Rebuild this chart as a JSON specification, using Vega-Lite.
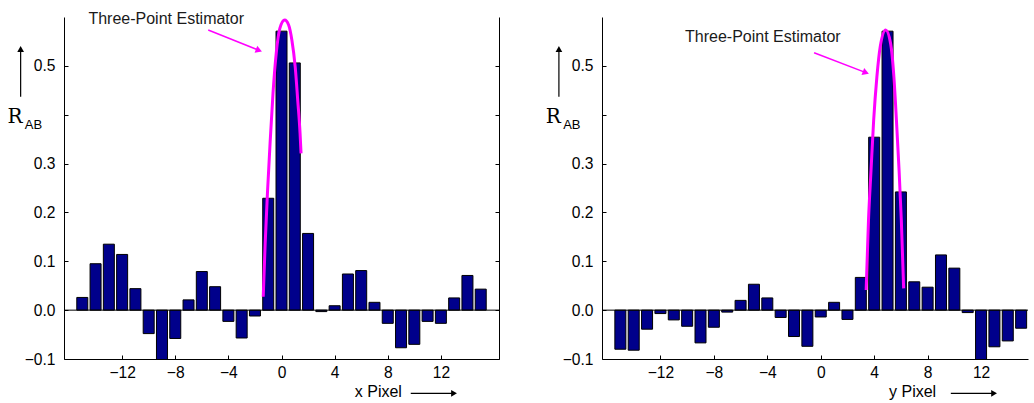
{
  "$schema": "https://vega.github.io/schema/vega-lite/v6.json",
  "padding": {"left": 7, "top": 11, "right": 0, "bottom": 0},
  "bounds": "flush",
  "spacing": 103,
  "datasets": {
    "leftBars": [
      {"pixel": -15, "r": 0.026}, {"pixel": -14, "r": 0.095}, {"pixel": -13, "r": 0.135}, {"pixel": -12, "r": 0.114},
      {"pixel": -11, "r": 0.044}, {"pixel": -10, "r": -0.048}, {"pixel": -9, "r": -0.102}, {"pixel": -8, "r": -0.058},
      {"pixel": -7, "r": 0.021}, {"pixel": -6, "r": 0.079}, {"pixel": -5, "r": 0.048}, {"pixel": -4, "r": -0.023},
      {"pixel": -3, "r": -0.057}, {"pixel": -2, "r": -0.012}, {"pixel": -1, "r": 0.229}, {"pixel": 0, "r": 0.571},
      {"pixel": 1, "r": 0.506}, {"pixel": 2, "r": 0.157}, {"pixel": 3, "r": -0.003}, {"pixel": 4, "r": 0.009},
      {"pixel": 5, "r": 0.074}, {"pixel": 6, "r": 0.081}, {"pixel": 7, "r": 0.016}, {"pixel": 8, "r": -0.027},
      {"pixel": 9, "r": -0.077}, {"pixel": 10, "r": -0.070}, {"pixel": 11, "r": -0.023}, {"pixel": 12, "r": -0.027},
      {"pixel": 13, "r": 0.025}, {"pixel": 14, "r": 0.071}, {"pixel": 15, "r": 0.043}
    ],
    "rightBars": [
      {"pixel": -15, "r": -0.080}, {"pixel": -14, "r": -0.082}, {"pixel": -13, "r": -0.039}, {"pixel": -12, "r": -0.007},
      {"pixel": -11, "r": -0.020}, {"pixel": -10, "r": -0.033}, {"pixel": -9, "r": -0.067}, {"pixel": -8, "r": -0.035},
      {"pixel": -7, "r": -0.004}, {"pixel": -6, "r": 0.020}, {"pixel": -5, "r": 0.053}, {"pixel": -4, "r": 0.025},
      {"pixel": -3, "r": -0.015}, {"pixel": -2, "r": -0.054}, {"pixel": -1, "r": -0.074}, {"pixel": 0, "r": -0.014},
      {"pixel": 1, "r": 0.016}, {"pixel": 2, "r": -0.019}, {"pixel": 3, "r": 0.067}, {"pixel": 4, "r": 0.354},
      {"pixel": 5, "r": 0.571}, {"pixel": 6, "r": 0.242}, {"pixel": 7, "r": 0.058}, {"pixel": 8, "r": 0.047},
      {"pixel": 9, "r": 0.113}, {"pixel": 10, "r": 0.086}, {"pixel": 11, "r": -0.005}, {"pixel": 12, "r": -0.102},
      {"pixel": 13, "r": -0.075}, {"pixel": 14, "r": -0.063}, {"pixel": 15, "r": -0.037}
    ],
    "leftCurve": [
      {"pixel": -1.376, "r": 0.0274}, {"pixel": -1.229, "r": 0.1367}, {"pixel": -1.059, "r": 0.2390},
      {"pixel": -0.861, "r": 0.3414}, {"pixel": -0.640, "r": 0.4437}, {"pixel": -0.397, "r": 0.5256},
      {"pixel": -0.125, "r": 0.5767}, {"pixel": 0.243, "r": 0.5937}, {"pixel": 0.537, "r": 0.5835},
      {"pixel": 0.780, "r": 0.5528}, {"pixel": 1.030, "r": 0.4982}, {"pixel": 1.221, "r": 0.4299},
      {"pixel": 1.398, "r": 0.3619}, {"pixel": 1.471, "r": 0.3209}
    ],
    "rightCurve": [
      {"pixel": 3.399, "r": 0.0411}, {"pixel": 3.575, "r": 0.1844}, {"pixel": 3.765, "r": 0.2867},
      {"pixel": 3.962, "r": 0.3891}, {"pixel": 4.203, "r": 0.4777}, {"pixel": 4.452, "r": 0.5391},
      {"pixel": 4.861, "r": 0.5733}, {"pixel": 5.227, "r": 0.5460}, {"pixel": 5.475, "r": 0.4777},
      {"pixel": 5.665, "r": 0.3891}, {"pixel": 5.863, "r": 0.2867}, {"pixel": 6.031, "r": 0.1844},
      {"pixel": 6.206, "r": 0.0446}
    ]
  },
  "hconcat": [
    {
      "width": 435,
      "height": 342,
      "resolve": {"axis": {"y": "independent"}},
      "layer": [
        {
          "layer": [
            {
              "data": {"name": "leftBars"},
              "mark": {"type": "bar", "width": 11, "fill": "#00008B", "stroke": "black", "strokeWidth": 1, "clip": true},
              "encoding": {
                "x": {"field": "pixel", "type": "quantitative",
                      "scale": {"domain": [-16, 16], "nice": false, "zero": false},
                      "axis": {"title": null, "values": [-12, -8, -4, 0, 4, 8, 12], "labelPadding": 10}},
                "y": {"field": "r", "type": "quantitative",
                      "scale": {"domain": [-0.1, 0.6], "nice": false},
                      "axis": {"title": null, "values": [-0.1, 0, 0.1, 0.2, 0.3, 0.4, 0.5], "labelPadding": 13,
                               "labelExpr": "abs(datum.value - 0.4) < 0.01 ? '' : format(datum.value, '.1f')"}}
              }
            },
            {
              "data": {"name": "leftCurve"},
              "mark": {"type": "line", "color": "#FF00FF", "strokeWidth": 3, "interpolate": "monotone"},
              "encoding": {
                "x": {"field": "pixel", "type": "quantitative"},
                "y": {"field": "r", "type": "quantitative"}
              }
            },
            {
              "data": {"values": [{}]},
              "mark": {"type": "text", "font": "Liberation Sans", "fontSize": 16, "color": "#1a1a1a", "align": "center", "baseline": "middle"},
              "encoding": {
                "x": {"datum": -8.68}, "y": {"datum": 0.5957},
                "text": {"value": "Three-Point Estimator"}
              }
            },
            {
              "data": {"values": [{}]},
              "mark": {"type": "rule", "color": "#FF00FF", "strokeWidth": 1.5},
              "encoding": {
                "x": {"datum": -5.517}, "y": {"datum": 0.5733},
                "x2": {"datum": -1.699}, "y2": {"datum": 0.5318}
              }
            },
            {
              "data": {"values": [{}]},
              "mark": {"type": "point", "shape": "triangle-right", "filled": true, "color": "#FF00FF", "size": 55, "angle": 21, "opacity": 1},
              "encoding": {
                "x": {"datum": -1.699}, "y": {"datum": 0.5318}
              }
            },
            {
              "data": {"values": [{}]},
              "mark": {"type": "text", "font": "DejaVu Serif", "fontSize": 20, "color": "black", "align": "left", "baseline": "alphabetic"},
              "encoding": {
                "x": {"datum": -20.627}, "y": {"datum": 0.3824},
                "text": {"value": "R"}
              }
            },
            {
              "data": {"values": [{}]},
              "mark": {"type": "text", "font": "Liberation Sans", "fontSize": 13, "color": "black", "align": "left", "baseline": "alphabetic"},
              "encoding": {
                "x": {"datum": -19.325}, "y": {"datum": 0.3698},
                "text": {"value": "AB"}
              }
            },
            {
              "data": {"values": [{}]},
              "mark": {"type": "rule", "color": "black", "strokeWidth": 1.2},
              "encoding": {
                "x": {"datum": -19.641}, "y": {"datum": 0.4369},
                "y2": {"datum": 0.5345}
              }
            },
            {
              "data": {"values": [{}]},
              "mark": {"type": "point", "shape": "triangle-up", "filled": true, "color": "black", "size": 45, "opacity": 1},
              "encoding": {
                "x": {"datum": -19.641}, "y": {"datum": 0.5345}
              }
            },
            {
              "data": {"values": [{}]},
              "mark": {"type": "text", "font": "Liberation Sans", "fontSize": 16, "color": "black", "align": "left", "baseline": "alphabetic"},
              "encoding": {
                "x": {"datum": 5.517}, "y": {"datum": -0.1771},
                "text": {"value": "x Pixel"}
              }
            },
            {
              "data": {"values": [{}]},
              "mark": {"type": "rule", "color": "black", "strokeWidth": 1.2},
              "encoding": {
                "x": {"datum": 9.732}, "y": {"datum": -0.1702},
                "x2": {"datum": 12.991}
              }
            },
            {
              "data": {"values": [{}]},
              "mark": {"type": "point", "shape": "triangle-right", "filled": true, "color": "black", "size": 45, "opacity": 1},
              "encoding": {
                "x": {"datum": 12.991}, "y": {"datum": -0.1702}
              }
            }
          ]
        },
        {
          "data": {"values": [{}]},
          "mark": {"type": "rule", "color": "black", "strokeWidth": 1},
          "encoding": {
            "y": {"datum": 0, "type": "quantitative",
                  "axis": {"orient": "right", "labels": false, "title": null, "values": [-0.1, 0, 0.1, 0.2, 0.3, 0.4, 0.5]}}
          }
        }
      ]
    },
    {
      "width": 426,
      "height": 342,
      "layer": [
        {
          "data": {"name": "rightBars"},
          "mark": {"type": "bar", "width": 11, "fill": "#00008B", "stroke": "black", "strokeWidth": 1, "clip": true},
          "encoding": {
            "x": {"field": "pixel", "type": "quantitative",
                  "scale": {"domain": [-16, 15.14], "nice": false, "zero": false},
                  "axis": {"title": null, "values": [-12, -8, -4, 0, 4, 8, 12], "labelPadding": 10}},
            "y": {"field": "r", "type": "quantitative",
                  "scale": {"domain": [-0.1, 0.6], "nice": false},
                  "axis": {"title": null, "values": [-0.1, 0, 0.1, 0.2, 0.3, 0.4, 0.5], "labelPadding": 13,
                           "labelExpr": "abs(datum.value - 0.4) < 0.01 ? '' : format(datum.value, '.1f')"}}
          }
        },
        {
          "data": {"values": [{}]},
          "mark": {"type": "rule", "color": "black", "strokeWidth": 1},
          "encoding": {
            "y": {"datum": 0, "type": "quantitative"}
          }
        },
        {
          "data": {"name": "rightCurve"},
          "mark": {"type": "line", "color": "#FF00FF", "strokeWidth": 3, "interpolate": "monotone"},
          "encoding": {
            "x": {"field": "pixel", "type": "quantitative"},
            "y": {"field": "r", "type": "quantitative"}
          }
        },
        {
          "data": {"values": [{}]},
          "mark": {"type": "text", "font": "Liberation Sans", "fontSize": 16, "color": "#1a1a1a", "align": "center", "baseline": "middle"},
          "encoding": {
            "x": {"datum": -4.335}, "y": {"datum": 0.5595},
            "text": {"value": "Three-Point Estimator"}
          }
        },
        {
          "data": {"values": [{}]},
          "mark": {"type": "rule", "color": "#FF00FF", "strokeWidth": 1.5},
          "encoding": {
            "x": {"datum": -0.497}, "y": {"datum": 0.5268},
            "x2": {"datum": 3.377}, "y2": {"datum": 0.4861}
          }
        },
        {
          "data": {"values": [{}]},
          "mark": {"type": "point", "shape": "triangle-right", "filled": true, "color": "#FF00FF", "size": 55, "angle": 21, "opacity": 1},
          "encoding": {
            "x": {"datum": 3.377}, "y": {"datum": 0.4861}
          }
        },
        {
          "data": {"values": [{}]},
          "mark": {"type": "text", "font": "DejaVu Serif", "fontSize": 20, "color": "black", "align": "left", "baseline": "alphabetic"},
          "encoding": {
            "x": {"datum": -20.58}, "y": {"datum": 0.3824},
            "text": {"value": "R"}
          }
        },
        {
          "data": {"values": [{}]},
          "mark": {"type": "text", "font": "Liberation Sans", "fontSize": 13, "color": "black", "align": "left", "baseline": "alphabetic"},
          "encoding": {
            "x": {"datum": -19.28}, "y": {"datum": 0.3698},
            "text": {"value": "AB"}
          }
        },
        {
          "data": {"values": [{}]},
          "mark": {"type": "rule", "color": "black", "strokeWidth": 1.2},
          "encoding": {
            "x": {"datum": -19.6}, "y": {"datum": 0.4369},
            "y2": {"datum": 0.5345}
          }
        },
        {
          "data": {"values": [{}]},
          "mark": {"type": "point", "shape": "triangle-up", "filled": true, "color": "black", "size": 45, "opacity": 1},
          "encoding": {
            "x": {"datum": -19.6}, "y": {"datum": 0.5345}
          }
        },
        {
          "data": {"values": [{}]},
          "mark": {"type": "text", "font": "Liberation Sans", "fontSize": 16, "color": "black", "align": "left", "baseline": "alphabetic"},
          "encoding": {
            "x": {"datum": 5.11}, "y": {"datum": -0.1771},
            "text": {"value": "y Pixel"}
          }
        },
        {
          "data": {"values": [{}]},
          "mark": {"type": "rule", "color": "black", "strokeWidth": 1.2},
          "encoding": {
            "x": {"datum": 9.737}, "y": {"datum": -0.1702},
            "x2": {"datum": 12.975}
          }
        },
        {
          "data": {"values": [{}]},
          "mark": {"type": "point", "shape": "triangle-right", "filled": true, "color": "black", "size": 45, "opacity": 1},
          "encoding": {
            "x": {"datum": 12.975}, "y": {"datum": -0.1702}
          }
        }
      ]
    }
  ],
  "config": {
    "view": {"stroke": null},
    "axis": {
      "grid": false,
      "domainColor": "black",
      "domainWidth": 1,
      "tickColor": "black",
      "tickWidth": 1,
      "tickSize": -4,
      "labelColor": "black",
      "labelFont": "Liberation Sans",
      "labelFontSize": 15.6
    }
  }
}
